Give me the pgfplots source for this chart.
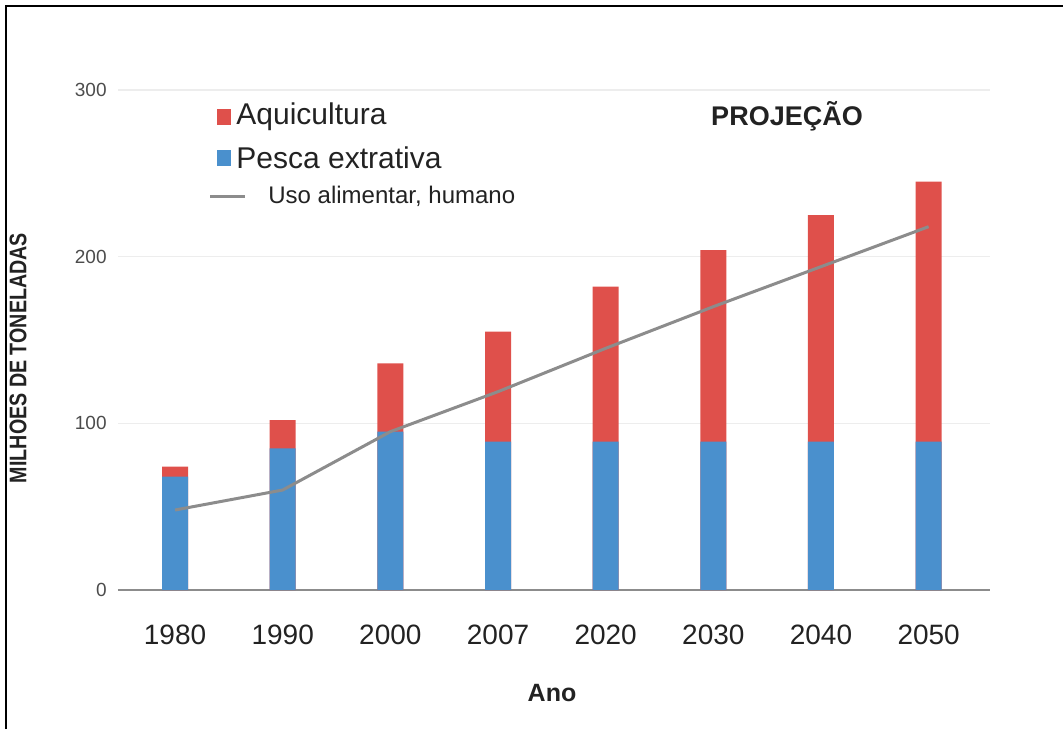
\documentclass[border=0pt]{standalone}
\usepackage{pgfplots}
\pgfplotsset{compat=1.18}
\usepackage{fontspec}
\setmainfont{Liberation Sans}
\usepackage{graphicx}
\definecolor{aqred}{HTML}{DF504B}
\definecolor{pblue}{HTML}{4A90CD}
\definecolor{lgray}{HTML}{8C8C8C}
\definecolor{txt}{HTML}{222222}
\newcommand\px[2]{({((#1)-118)*0.5pt},{(590-(#2))*0.5pt})}

\begin{document}
\begin{tikzpicture}
\begin{axis}[
  at={(0,0)}, anchor=south west,
  scale only axis, width=436pt, height=250pt,
  xmin=-0.53, xmax=7.57, ymin=0, ymax=300,
  xtick={0,...,7}, xticklabels={1980,1990,2000,2007,2020,2030,2040,2050},
  ytick={0,100,200,300},
  major tick length=0pt,
  axis lines*=left,
  x axis line style={draw=lgray, line width=1pt},
  y axis line style={draw=none},
  ymajorgrids, grid style={black!7, line width=0.6pt},
  xticklabel style={font=\fontsize{14}{16}\selectfont, text=txt, anchor=center, yshift=-22.5pt},
  yticklabel style={font=\fontsize{9.5}{11}\selectfont, text=black!70, anchor=east, inner sep=0pt, xshift=-5.5pt},
  /pgf/number format/assume math mode=true,
  clip=false,
]
% total (Aquicultura on top of Pesca extrativa)
\addplot[ybar, bar width=13pt, bar shift=0pt, fill=aqred, draw=none]
  coordinates {(0,74) (1,102) (2,136) (3,155) (4,182) (5,204) (6,225) (7,245)};
% Pesca extrativa
\addplot[ybar, bar width=13pt, bar shift=0pt, fill=pblue, draw=none]
  coordinates {(0,68) (1,85) (2,95) (3,89) (4,89) (5,89) (6,89) (7,89)};
% Uso alimentar, humano
\addplot[lgray, line width=1.5pt, mark=none]
  coordinates {(0,48) (1,60) (2,95) (3,119) (4,145) (5,170) (6,194) (7,218)};
\end{axis}

% legend
\fill[aqred] \px{217}{109} rectangle \px{231}{125};
\node[anchor=west, inner sep=0pt, text=txt, font=\fontsize{15}{17}\selectfont] at \px{236}{117} {Aquicultura};
\fill[pblue] \px{217}{150} rectangle \px{231}{166};
\node[anchor=west, inner sep=0pt, text=txt, font=\fontsize{15}{17}\selectfont] at \px{236}{158} {Pesca extrativa};
\draw[lgray, line width=1.5pt] \px{210}{196} -- \px{245}{196};
\node[anchor=west, inner sep=0pt, text=txt, font=\fontsize{12}{14}\selectfont] at \px{268}{196} {Uso alimentar, humano};

\node[inner sep=0pt, text=txt, font=\bfseries\fontsize{13.5}{15}\selectfont] at \px{787}{116} {PROJEÇÃO};
\node[inner sep=0pt, text=txt, font=\bfseries\fontsize{12.5}{14}\selectfont] at \px{552}{693} {Ano};
\node[inner sep=0pt, text=txt, rotate=90, font=\bfseries\fontsize{12}{14}\selectfont] at \px{18}{358} {\scalebox{0.82}[1]{MILHOES DE TONELADAS}};

% frame
\draw[black, line width=1.25pt] \px{6}{729} -- \px{6}{6} -- \px{1063}{6};

\pgfresetboundingbox
\path[use as bounding box] \px{0}{0} rectangle \px{1063}{729};
\end{tikzpicture}
\end{document}
